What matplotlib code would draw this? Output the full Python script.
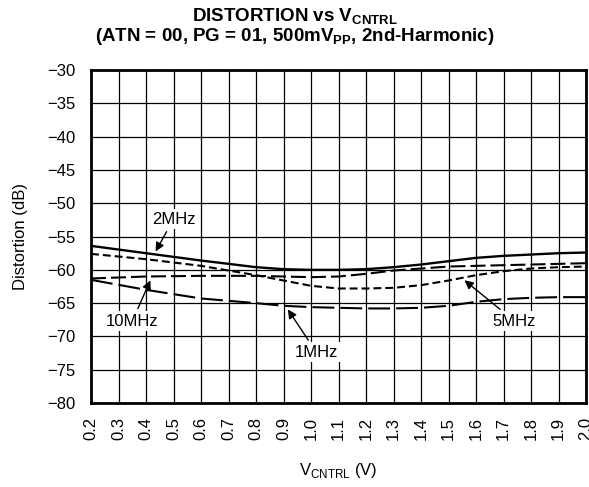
import matplotlib

matplotlib.use("Agg")
import matplotlib.pyplot as plt

plt.rcParams["font.family"] = ["Liberation Sans", "DejaVu Sans"]
plt.rcParams["mathtext.fontset"] = "custom"
plt.rcParams["mathtext.rm"] = "Liberation Sans"
plt.rcParams["mathtext.bf"] = "Liberation Sans:bold"

# control voltage (V) and distortion (dB) for each input frequency
vctrl = [0.2, 0.4, 0.6, 0.8, 0.9, 1.0, 1.1, 1.2, 1.3, 1.4, 1.5, 1.6, 1.7, 1.8, 1.9, 2.0]
dist_2mhz = [-56.4, -57.5, -58.6, -59.6, -59.9, -60.0, -60.0, -59.9, -59.6, -59.2, -58.7, -58.2, -57.9, -57.7, -57.5, -57.4]
dist_5mhz = [-57.6, -58.4, -59.4, -60.8, -61.6, -62.4, -62.8, -62.8, -62.7, -62.3, -61.6, -60.8, -60.2, -59.8, -59.6, -59.5]
dist_10mhz = [-61.3, -61.0, -60.9, -60.9, -61.0, -61.1, -61.0, -60.6, -60.1, -59.8, -59.5, -59.4, -59.3, -59.2, -59.1, -59.0]
dist_1mhz = [-61.5, -63.0, -64.3, -65.0, -65.4, -65.6, -65.7, -65.8, -65.8, -65.7, -65.4, -64.8, -64.4, -64.2, -64.1, -64.1]

x_ticks = [round(0.2 + 0.1 * i, 1) for i in range(19)]
y_ticks = list(range(-80, -29, 5))

fig = plt.figure(figsize=(5.89, 4.87), dpi=100)
ax = fig.add_axes([0.1545, 0.1725, 0.8405, 0.6835])

ax.plot(vctrl, dist_2mhz, color="black", lw=1.7, ls="-")
ax.plot(vctrl, dist_5mhz, color="black", lw=1.5, ls=(0, (3.8, 1.9)))
ax.plot(vctrl, dist_10mhz, color="black", lw=1.5, ls=(0, (7.2, 2.4)))
ax.plot(vctrl, dist_1mhz, color="black", lw=1.5, ls=(0, (10.5, 2.9)))

ax.set_xlim(0.2, 2.0)
ax.set_ylim(-80, -30)
ax.set_xticks(x_ticks)
ax.set_xticklabels([f"{v:.1f}" for v in x_ticks], rotation=90, fontsize=12)
ax.set_yticks(y_ticks)
ax.set_yticklabels([f"\u2212{abs(v)}" for v in y_ticks], fontsize=12)
ax.tick_params(axis="x", length=0, pad=10)
ax.tick_params(axis="y", length=0, pad=11)
ax.grid(True, color="black", lw=0.9)
for s in ax.spines.values():
    s.set_linewidth(2)

ax.set_xlabel(r"V$_{\mathrm{CNTRL}}$ (V)", fontsize=12, labelpad=15)
ax.set_ylabel("Distortion (dB)", fontsize=12, labelpad=14)
fig.text(0.5, 0.966, r"DISTORTION vs V$_{\mathbf{CNTRL}}$", ha="center", va="center",
         fontsize=13.5, fontweight="bold")
fig.text(0.5, 0.925, r"(ATN = 00, PG = 01, 500mV$_{\mathbf{PP}}$, 2nd-Harmonic)", ha="center",
         va="center", fontsize=13.5, fontweight="bold")

arrow = dict(arrowstyle="-|>", color="black", lw=1, mutation_scale=13)
box = dict(boxstyle="square,pad=0.15", fc="white", ec="none")
ax.annotate("2MHz", xy=(0.43, -57.6), xytext=(0.5, -52.4), ha="center", va="center",
            fontsize=12, arrowprops=arrow, bbox=box)
ax.annotate("10MHz", xy=(0.42, -61.2), xytext=(0.35, -67.7), ha="center", va="center",
            fontsize=12, arrowprops=arrow, bbox=box)
ax.annotate("1MHz", xy=(0.91, -65.6), xytext=(1.02, -72.4), ha="center", va="center",
            fontsize=12, arrowprops=arrow, bbox=box)
ax.annotate("5MHz", xy=(1.55, -61.3), xytext=(1.74, -67.7), ha="center", va="center",
            fontsize=12, arrowprops=arrow, bbox=box)

fig.savefig("out.png", dpi=100)
